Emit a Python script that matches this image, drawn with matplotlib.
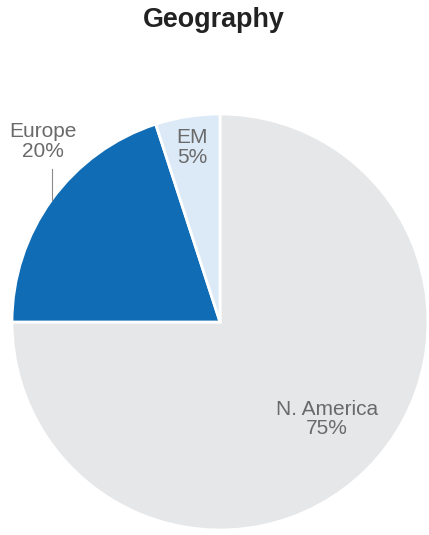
import numpy as np
import matplotlib.pyplot as plt

plt.rcParams['font.family'] = ['Liberation Sans', 'DejaVu Sans']

regions = ['N. America', 'Europe', 'EM']
shares = [75, 20, 5]
colors = ['#e6e7e9', '#106cb4', '#dce9f6']

W, H = 429, 535
fig = plt.figure(figsize=(W / 100, H / 100), dpi=100)
# pie centre ~ (220, 322) px, radius ~208 px
cx, cy, r = 220, 322, 208
ax = fig.add_axes([(cx - r) / W, (H - cy - r) / H, 2 * r / W, 2 * r / H])

wedges, _ = ax.pie(shares, colors=colors, startangle=90, counterclock=False,
                   radius=1, wedgeprops=dict(edgecolor='white', linewidth=2))
ax.set_xlim(-1, 1)
ax.set_ylim(-1, 1)
ax.set_aspect('equal')
ax.axis('off')

txt = dict(color='#6a6a6a', fontsize=15, ha='center', va='center',
           linespacing=1.02)

# label radius / offsets per slice
for w, name, val in zip(wedges, regions, shares):
    mid = np.deg2rad((w.theta1 + w.theta2) / 2)
    label = f'{name}\n{val}%'
    if name == 'Europe':
        ex, ey = np.cos(mid), np.sin(mid)
        ax.plot([ex, ex], [ey, ey + 0.15], color='#8a8a8a', lw=0.8,
                clip_on=False)
        ax.text(ex - 0.04, ey + 0.28, label, **txt)
    elif name == 'EM':
        ax.text(0.85 * np.cos(mid), 0.85 * np.sin(mid), label, **txt)
    else:
        ax.text(0.70 * np.cos(mid) + 0.02, 0.70 * np.sin(mid) + 0.03,
                label, **txt)

fig.text(214 / W, 1 - 20 / H, 'Geography', ha='center', va='center',
         fontsize=19.4, fontweight='bold', color='#222222')

fig.savefig('out.png', dpi=100)
